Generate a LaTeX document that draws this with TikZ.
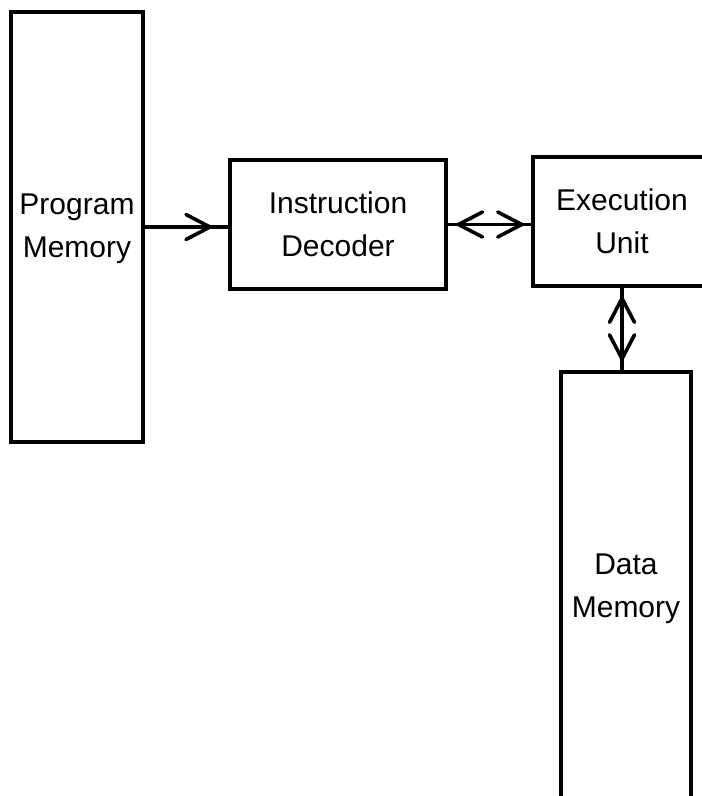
\documentclass[tikz,border=0pt]{standalone}
\usepackage{fontspec}
\setmainfont{Liberation Sans}
\usetikzlibrary{calc}
\newcommand{\lowered}[2]{\raisebox{-#1}{\begin{tabular}{@{}c@{}}#2\end{tabular}}}
\tikzset{
  block/.style={draw, line width=3.2pt, inner sep=0pt, align=center,
    font=\fontsize{30}{43}\selectfont},
  link/.style={line width=3.2pt},
  barb/.style={line width=3.6pt, line cap=round, line join=miter}
}
\begin{document}
\begin{tikzpicture}[x=1pt,y=-1pt]
  \useasboundingbox (0,0) rectangle (702,796);
  \clip (0,0) rectangle (702,796);
  \fill[white] (0,0) rectangle (702,796);

  % functional blocks
  \node[block, minimum width=132pt, minimum height=430pt] (pm) at (77,227) {\lowered{4pt}{Program\\Memory}};
  \node[block, minimum width=216pt, minimum height=129pt] (id) at (338,224.5) {Instruction\\Decoder};
  \node[block, minimum width=178pt, minimum height=129pt] (eu) at (622,221.5) {Execution\\Unit};
  \node[block, minimum width=130pt, minimum height=430pt] (dm) at (626,587) {\lowered{4pt}{Data\\Memory}};

  % data paths, with the tip points of their barbs
  \draw[link] (pm.east) -- (pm.east -| id.west) coordinate[pos=0.78] (t1);
  \draw[link] (id.east) -- (id.east -| eu.west)
    coordinate[pos=0.13] (t2) coordinate[pos=0.885] (t3);
  \draw[link] (eu.south) -- (eu.south |- dm.north)
    coordinate[pos=0.13] (t4) coordinate[pos=0.86] (t5);

  % open barbs
  \draw[barb] ($(t1)+(-24,-12.5)$) -- (t1) -- ($(t1)+(-24,12.5)$);
  \draw[barb] ($(t2)+(24,-12.5)$) -- (t2) -- ($(t2)+(24,12.5)$);
  \draw[barb] ($(t3)+(-24,-12.5)$) -- (t3) -- ($(t3)+(-24,12.5)$);
  \draw[barb] ($(t4)+(-12.5,24)$) -- (t4) -- ($(t4)+(12.5,24)$);
  \draw[barb] ($(t5)+(-12.5,-24)$) -- (t5) -- ($(t5)+(12.5,-24)$);
\end{tikzpicture}
\end{document}
